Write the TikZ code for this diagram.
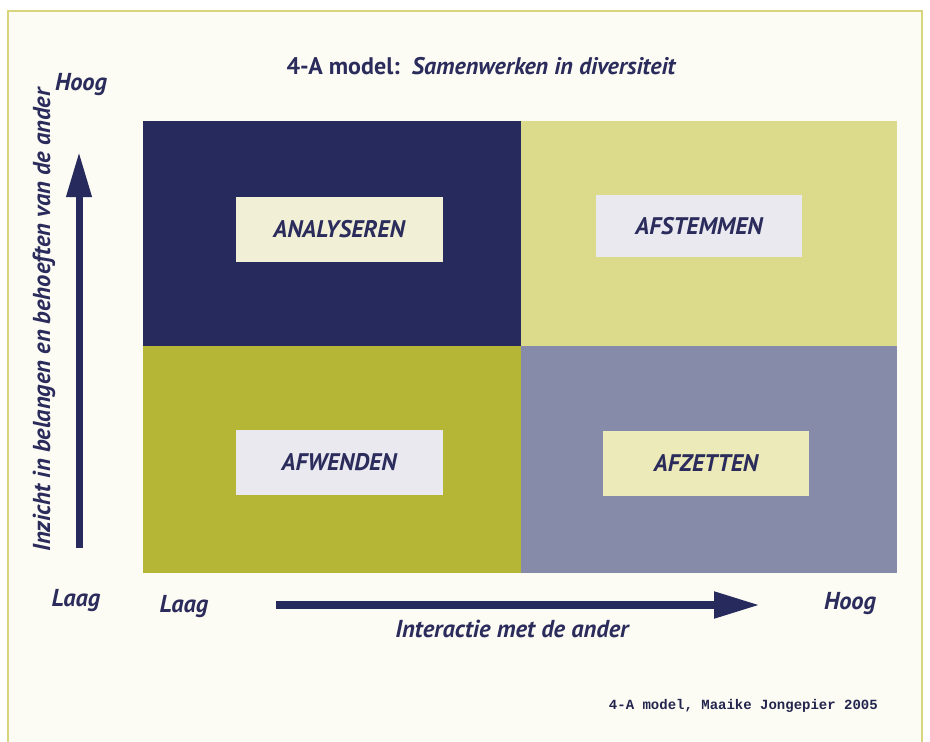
\documentclass[tikz,border=0pt]{standalone}
\usepackage{fontspec}
\setmainfont{PT Sans}
\setmonofont{Liberation Mono}
\usetikzlibrary{arrows.meta}
\definecolor{navy}{HTML}{272A5C}
\definecolor{olive}{HTML}{B6B636}
\definecolor{paleyel}{HTML}{DCDB8C}
\definecolor{greyblue}{HTML}{878BAA}
\definecolor{cream}{HTML}{FCFCF4}
\definecolor{framecol}{HTML}{D8D57C}
\definecolor{boxcream}{HTML}{F1F0D6}
\definecolor{boxwhite}{HTML}{E9E9EF}
\definecolor{boxyel}{HTML}{EBEAB8}
\definecolor{textnavy}{HTML}{2B2C5C}
\tikzset{
  quad/.style={draw=none, inner sep=0pt, outer sep=0pt, anchor=north west},
  lbox/.style={inner sep=0pt, minimum width=207pt, minimum height=65pt,
    font=\fontsize{24}{25}\selectfont\bfseries\itshape, text=textnavy},
  axislab/.style={font=\fontsize{24.5}{25}\selectfont\bfseries\itshape, text=textnavy, inner sep=0pt},
  bigarrow/.style={draw=navy, line width=8pt, -{Triangle[width=25pt,length=46pt]}}
}
\begin{document}
\begin{tikzpicture}[x=1pt,y=-1pt]
\useasboundingbox (0,0) rectangle (930,742);
\fill[white] (0,0) rectangle (930,742);
\fill[cream] (8,11) rectangle (922,760);
\draw[framecol, line width=2.5pt] (8,760) -- (8,11) -- (922,11) -- (922,760);
% quadrants
\node[quad, fill=navy, minimum width=378pt, minimum height=225pt] (q1) at (143,121) {};
\node[quad, fill=paleyel, minimum width=376pt, minimum height=225pt] (q2) at (521,121) {};
\node[quad, fill=olive, minimum width=378pt, minimum height=227pt] (q3) at (143,346) {};
\node[quad, fill=greyblue, minimum width=376pt, minimum height=227pt] (q4) at (521,346) {};
% label boxes
\node[lbox, fill=boxcream] (ana) at (339,229) {ANALYSEREN};
\node[lbox, fill=boxwhite, minimum width=206pt, minimum height=62pt] (afs) at (699,226) {AFSTEMMEN};
\node[lbox, fill=boxwhite] (afw) at (339,462) {AFWENDEN};
\node[lbox, fill=boxyel, minimum width=206pt] (afz) at (706,463) {AFZETTEN};
% title
\node[text=textnavy, inner sep=0pt, font=\fontsize{24}{25}\selectfont\bfseries] (title) at (481,66)
  {4-A model:\ \ \itshape Samenwerken in diversiteit};
% vertical axis
\coordinate (vstart) at (79,548);
\coordinate (vend) at (79,152);
\draw[bigarrow, line width=7pt, -{Triangle[width=24pt,length=45pt]}] (vstart) -- (vend);
\node[axislab] (hoogv) at (81,85) {Hoog};
\node[axislab] (laagv) at (76,601) {Laag};
\node[axislab, rotate=90] (vlab) at (44,320) {Inzicht in belangen en behoeften van de ander};
% horizontal axis
\coordinate (hstart) at (276,605);
\coordinate (hend) at (760,605);
\draw[bigarrow] (hstart) -- (hend);
\node[axislab] (laagh) at (184,607) {Laag};
\node[axislab] (hoogh) at (850,604) {Hoog};
\node[axislab] (hlab) at (512,629) {Interactie met de ander};
% caption
\node[anchor=east, inner sep=0pt, text=textnavy!85!black, font=\fontsize{14}{15}\selectfont\ttfamily\bfseries] (cap) at (878,706)
  {4-A model, Maaike Jongepier 2005};
\end{tikzpicture}
\end{document}
